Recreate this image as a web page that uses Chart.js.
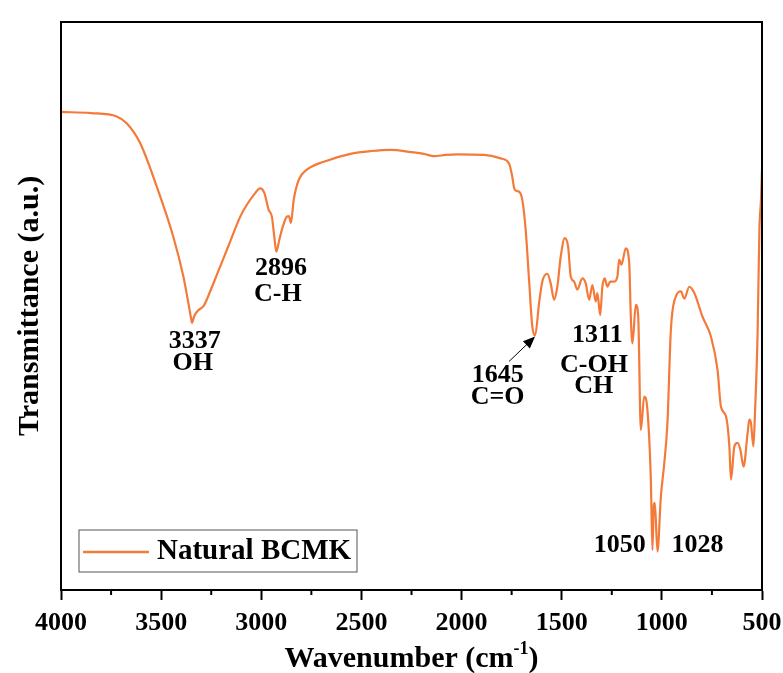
<!DOCTYPE html>
<html lang="en">
<head>
    <meta charset="UTF-8">
    <title>FTIR Natural BCMK</title>
    <script src="https://cdn.jsdelivr.net/npm/chart.js"></script>
    <style>
        html, body {
            margin: 0;
            padding: 0;
            width: 783px;
            height: 673px;
            overflow: hidden;
            background: #ffffff;
        }
        canvas {
            width: 783px !important;
            height: 673px !important;
        }
    </style>
</head>
<body>
    <canvas id="ftirChart"></canvas>

    <script>
        // Spektrum (Wellenzahl in cm-1, Transmission in a.u.)
        const wavenumbers = [4000, 3850, 3722, 3672, 3605, 3522, 3439, 3389, 3364, 3350, 3346, 3335, 3313, 3288, 3255, 3222,
            3163, 3105, 3072, 3040, 3005, 2985, 2963, 2947, 2935, 2925, 2910, 2897, 2872, 2862, 2852, 2838, 2813, 2772,
            2688, 2555, 2450, 2355, 2250, 2188, 2138, 2080, 2022, 1888, 1805, 1763, 1747, 1738, 1730, 1713, 1697, 1680,
            1663, 1647, 1633, 1613, 1597, 1572, 1555, 1538, 1522, 1505, 1485, 1468, 1455, 1438, 1422, 1397, 1380, 1363,
            1347, 1330, 1322, 1308, 1297, 1285, 1272, 1258, 1238, 1222, 1213, 1202, 1180, 1163, 1155, 1147, 1130, 1118,
            1105, 1088, 1072, 1055, 1047, 1040, 1035, 1022, 1005, 988, 972, 955, 930, 905, 888, 863, 838, 797, 755, 722,
            705, 680, 663, 655, 638, 622, 608, 592, 572, 563, 555, 543, 535, 522, 513, 505, 500];
        const transmittance = [84.1, 83.9, 83.3, 82.1, 78.6, 70.9, 62.0, 55.0, 50.3, 47.5, 46.8, 48.0, 49.1, 49.8, 52.4, 55.3,
            60.5, 65.6, 67.7, 69.3, 70.6, 69.8, 66.8, 65.6, 62.0, 59.4, 61.5, 63.3, 65.6, 65.7, 64.5, 68.6, 72.1, 73.9,
            75.3, 76.7, 77.2, 77.4, 77.0, 76.7, 76.3, 76.5, 76.6, 76.5, 75.9, 75.0, 72.7, 70.7, 70.2, 70.0, 68.6, 63.3,
            54.4, 46.2, 44.6, 50.3, 54.1, 55.5, 53.8, 50.9, 53.2, 58.5, 61.8, 60.3, 55.0, 54.1, 52.7, 54.7, 53.8, 50.9,
            53.5, 50.6, 52.1, 48.2, 53.2, 54.7, 53.2, 54.1, 54.1, 55.0, 58.0, 57.1, 60.0, 57.4, 47.9, 43.2, 50.0, 47.9,
            27.9, 33.8, 31.4, 19.1, 6.7, 14.7, 15.0, 6.4, 16.1, 22.0, 29.2, 45.6, 51.5, 52.4, 51.1, 53.2, 52.1, 47.9, 44.4, 38.5,
            32.0, 30.3, 25.0, 19.1, 25.0, 25.6, 24.4, 21.4, 27.3, 29.7, 29.1, 25.0, 30.9, 45.0, 63.3, 68.6, 73.9];

        // Beschriftungen der Banden (Text, Wellenzahl, Transmission)
        const peakTexts = ['3337', 'OH', '2896', 'C-H', '1645', 'C=O', '1311', 'C-OH', 'CH', '1050', '1028'];
        const peakWn = [3332, 3342, 2902, 2917, 1819, 1820, 1322, 1339, 1340, 1210, 822];
        const peakT = [43.5, 39.6, 56.4, 51.8, 37.5, 33.6, 44.6, 39.3, 35.6, 7.5, 7.5];

        // Pfeil zur C=O Bande
        const arrowFrom = [1763, 40.0];
        const arrowTo = [1633, 44.4];

        const seriesLabel = 'Natural BCMK';
        const lineColor = '#F47A3A';
        const serif = "'Liberation Serif', 'Times New Roman', serif";

        const points = wavenumbers.map((w, i) => ({ x: w, y: transmittance[i] }));

        const data = {
            datasets: [{
                label: seriesLabel,
                data: points,
                borderColor: lineColor,
                backgroundColor: lineColor,
                borderWidth: 2.2,
                pointRadius: 0,
                cubicInterpolationMode: 'monotone'
            }]
        };

        // Rahmen, kleine Ticks, Achsentitel, Beschriftungen, Legende
        const decorations = {
            id: 'decorations',
            afterDraw(chart) {
                const ctx = chart.ctx;
                const area = chart.chartArea;
                const xs = chart.scales.x;
                const ys = chart.scales.y;
                ctx.save();

                // Rahmen
                ctx.strokeStyle = '#000';
                ctx.lineWidth = 2;
                ctx.strokeRect(area.left, area.top, area.right - area.left, area.bottom - area.top);

                // kleine Ticks
                xs.ticks.forEach(t => {
                    if (t.value % 500 !== 0) {
                        const px = xs.getPixelForValue(t.value);
                        ctx.beginPath();
                        ctx.moveTo(px, area.bottom);
                        ctx.lineTo(px, area.bottom + 5);
                        ctx.stroke();
                    }
                });

                // X-Achsentitel mit Hochstellung
                ctx.fillStyle = '#000';
                ctx.textBaseline = 'alphabetic';
                const bigFont = 'bold 30px ' + serif;
                const supFont = 'bold 18px ' + serif;
                const partA = 'Wavenumber (cm';
                const partB = '-1';
                const partC = ')';
                ctx.font = bigFont;
                const wA = ctx.measureText(partA).width;
                const wC = ctx.measureText(partC).width;
                ctx.font = supFont;
                const wB = ctx.measureText(partB).width;
                const total = wA + wB + wC;
                let tx = (area.left + area.right) / 2 - total / 2;
                const baseY = 667;
                ctx.textAlign = 'left';
                ctx.font = bigFont;
                ctx.fillText(partA, tx, baseY);
                tx += wA;
                ctx.font = supFont;
                ctx.fillText(partB, tx, baseY - 13);
                tx += wB;
                ctx.font = bigFont;
                ctx.fillText(partC, tx, baseY);

                // Bandenbeschriftungen
                ctx.font = 'bold 26px ' + serif;
                ctx.textAlign = 'center';
                ctx.textBaseline = 'middle';
                peakTexts.forEach((txt, i) => {
                    ctx.fillText(txt, xs.getPixelForValue(peakWn[i]), ys.getPixelForValue(peakT[i]));
                });

                // Pfeil
                const x1 = xs.getPixelForValue(arrowFrom[0]);
                const y1 = ys.getPixelForValue(arrowFrom[1]);
                const x2 = xs.getPixelForValue(arrowTo[0]);
                const y2 = ys.getPixelForValue(arrowTo[1]);
                const ang = Math.atan2(y2 - y1, x2 - x1);
                ctx.lineWidth = 1;
                ctx.beginPath();
                ctx.moveTo(x1, y1);
                ctx.lineTo(x2 - 8 * Math.cos(ang), y2 - 8 * Math.sin(ang));
                ctx.stroke();
                ctx.beginPath();
                ctx.moveTo(x2, y2);
                ctx.lineTo(x2 - 12 * Math.cos(ang) + 5 * Math.sin(ang), y2 - 12 * Math.sin(ang) - 5 * Math.cos(ang));
                ctx.lineTo(x2 - 12 * Math.cos(ang) - 5 * Math.sin(ang), y2 - 12 * Math.sin(ang) + 5 * Math.cos(ang));
                ctx.closePath();
                ctx.fill();

                // Legende
                const lx = area.left + 18;
                const ly = area.bottom - 60;
                ctx.strokeStyle = '#555';
                ctx.lineWidth = 1;
                ctx.strokeRect(lx, ly, 278, 42);
                ctx.strokeStyle = lineColor;
                ctx.lineWidth = 2.5;
                ctx.beginPath();
                ctx.moveTo(lx + 4, ly + 22);
                ctx.lineTo(lx + 70, ly + 22);
                ctx.stroke();
                ctx.fillStyle = '#000';
                ctx.font = 'bold 29px ' + serif;
                ctx.textAlign = 'left';
                ctx.textBaseline = 'middle';
                ctx.fillText(chart.data.datasets[0].label, lx + 78, ly + 22);

                ctx.restore();
            }
        };

        const config = {
            type: 'line',
            data: data,
            options: {
                responsive: true,
                maintainAspectRatio: false,
                animation: false,
                layout: { padding: { left: 0, right: 21, top: 22, bottom: 0 } },
                scales: {
                    x: {
                        type: 'linear',
                        reverse: true,
                        min: 500,
                        max: 4000,
                        afterFit(scale) {
                            scale.height = 83;
                            scale.paddingLeft = 0;
                            scale.paddingRight = 0;
                        },
                        border: { display: true, color: '#000', width: 2 },
                        grid: {
                            drawOnChartArea: false,
                            drawTicks: true,
                            tickLength: 10,
                            tickWidth: 2,
                            tickColor: c => (c.tick && c.tick.value % 500 === 0) ? '#000' : 'rgba(0,0,0,0)'
                        },
                        ticks: {
                            stepSize: 250,
                            autoSkip: false,
                            maxRotation: 0,
                            padding: 8,
                            color: '#000',
                            font: { family: serif, weight: 'bold', size: 26 },
                            callback: v => (v % 500 === 0 ? String(v) : '')
                        },
                        title: { display: false }
                    },
                    y: {
                        min: -0.4,
                        max: 100,
                        afterFit(scale) { scale.width = 61; },
                        border: { display: false },
                        grid: { display: false },
                        ticks: { display: false },
                        title: {
                            display: true,
                            text: 'Transmittance (a.u.)',
                            color: '#000',
                            font: { family: serif, weight: 'bold', size: 30 },
                            padding: { top: 12, bottom: 0 }
                        }
                    }
                },
                plugins: {
                    legend: { display: false },
                    tooltip: { enabled: false }
                }
            },
            plugins: [decorations]
        };

        const ctx = document.getElementById('ftirChart').getContext('2d');
        const ftirChart = new Chart(ctx, config);
    </script>
</body>
</html>
